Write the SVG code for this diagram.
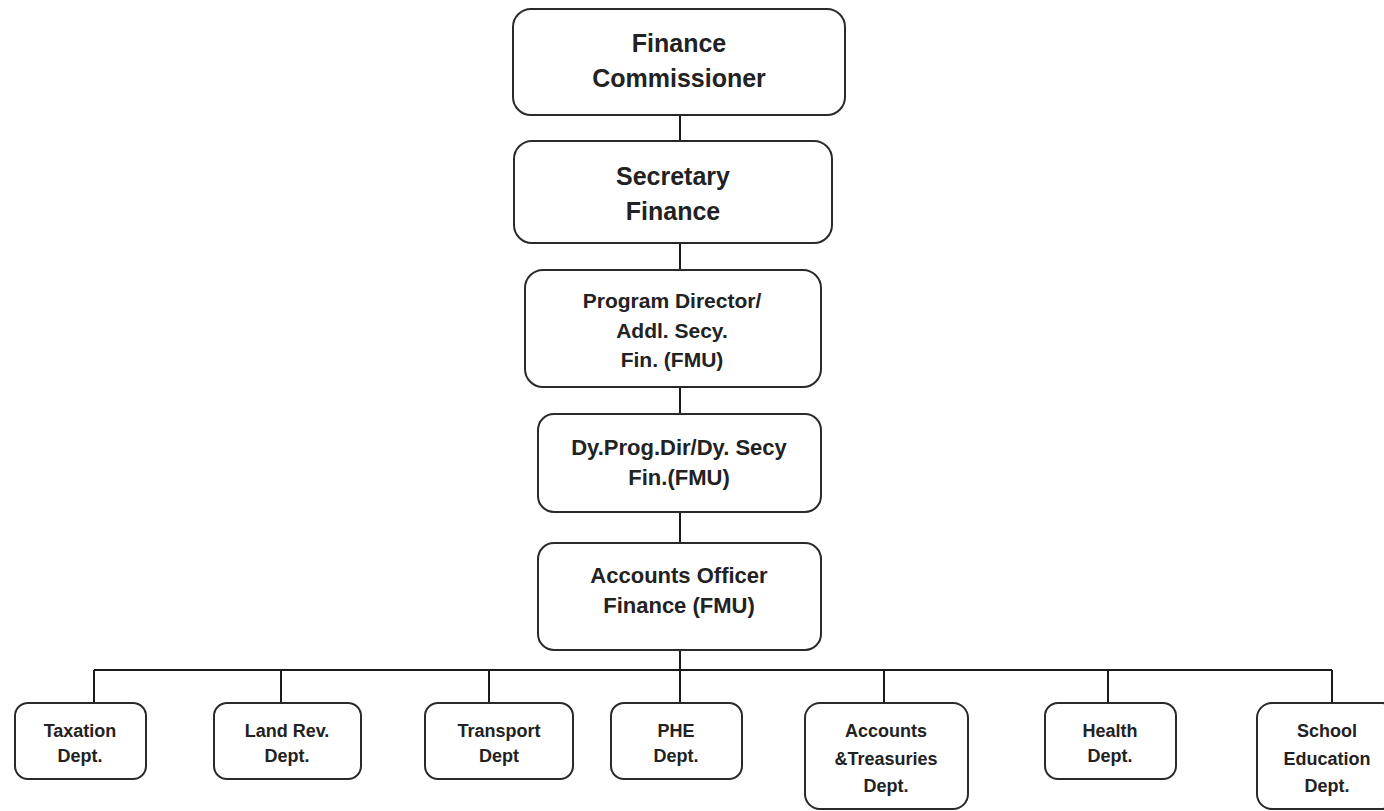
<svg xmlns="http://www.w3.org/2000/svg" width="1384" height="811" viewBox="0 0 1384 811">
  <style>
    .box { fill: #ffffff; stroke: #2a2a2a; stroke-width: 2; }
    .link { fill: none; stroke: #1a1a1a; stroke-width: 2; }
    text { font-family: "Liberation Sans", Arial, sans-serif; font-weight: bold; fill: #222222; text-anchor: middle; }
    .t1 { font-size: 25px; }
    .t2 { font-size: 21px; }
    .t3 { font-size: 22px; }
    .t4 { font-size: 18px; }
  </style>
  <rect width="1384" height="811" fill="#ffffff"/>

  <g id="connectors">
    <path class="link" d="M680 115 V141"/>
    <path class="link" d="M680 243 V270"/>
    <path class="link" d="M680 387 V414"/>
    <path class="link" d="M680 512 V543"/>
    <path class="link" d="M680 650 V703"/>
    <path class="link" d="M94 670 H1332"/>
    <path class="link" d="M94 670 V703"/>
    <path class="link" d="M281 670 V703"/>
    <path class="link" d="M489 670 V703"/>
    <path class="link" d="M884 670 V703"/>
    <path class="link" d="M1108 670 V703"/>
    <path class="link" d="M1332 670 V703"/>
  </g>

  <g id="finance-commissioner">
    <rect class="box" x="513" y="9" width="332" height="106" rx="18"/>
    <text class="t1" x="679" y="52">Finance</text>
    <text class="t1" x="679" y="87">Commissioner</text>
  </g>

  <g id="secretary-finance">
    <rect class="box" x="514" y="141" width="318" height="102" rx="18"/>
    <text class="t1" x="673" y="185">Secretary</text>
    <text class="t1" x="673" y="220">Finance</text>
  </g>

  <g id="program-director">
    <rect class="box" x="525" y="270" width="296" height="117" rx="18"/>
    <text class="t2" x="672" y="308">Program Director/</text>
    <text class="t2" x="672" y="338">Addl. Secy.</text>
    <text class="t2" x="672" y="367">Fin. (FMU)</text>
  </g>

  <g id="deputy-program-director">
    <rect class="box" x="538" y="414" width="283" height="98" rx="16"/>
    <text class="t3" x="679" y="455">Dy.Prog.Dir/Dy. Secy</text>
    <text class="t3" x="679" y="485">Fin.(FMU)</text>
  </g>

  <g id="accounts-officer">
    <rect class="box" x="538" y="543" width="283" height="107" rx="16"/>
    <text class="t3" x="679" y="583">Accounts Officer</text>
    <text class="t3" x="679" y="613">Finance (FMU)</text>
  </g>

  <g id="taxation-dept">
    <rect class="box" x="15" y="703" width="131" height="76" rx="13"/>
    <text class="t4" x="80" y="737">Taxation</text>
    <text class="t4" x="80" y="762">Dept.</text>
  </g>

  <g id="land-revenue-dept">
    <rect class="box" x="214" y="703" width="147" height="76" rx="13"/>
    <text class="t4" x="287" y="737">Land Rev.</text>
    <text class="t4" x="287" y="762">Dept.</text>
  </g>

  <g id="transport-dept">
    <rect class="box" x="425" y="703" width="148" height="76" rx="13"/>
    <text class="t4" x="499" y="737">Transport</text>
    <text class="t4" x="499" y="762">Dept</text>
  </g>

  <g id="phe-dept">
    <rect class="box" x="611" y="703" width="131" height="76" rx="13"/>
    <text class="t4" x="676" y="737">PHE</text>
    <text class="t4" x="676" y="762">Dept.</text>
  </g>

  <g id="accounts-treasuries-dept">
    <rect class="box" x="805" y="703" width="163" height="106" rx="15"/>
    <text class="t4" x="886" y="737">Accounts</text>
    <text class="t4" x="886" y="765">&amp;Treasuries</text>
    <text class="t4" x="886" y="792">Dept.</text>
  </g>

  <g id="health-dept">
    <rect class="box" x="1045" y="703" width="131" height="76" rx="13"/>
    <text class="t4" x="1110" y="737">Health</text>
    <text class="t4" x="1110" y="762">Dept.</text>
  </g>

  <g id="school-education-dept">
    <rect class="box" x="1257" y="703" width="140" height="106" rx="15"/>
    <text class="t4" x="1327" y="737">School</text>
    <text class="t4" x="1327" y="765">Education</text>
    <text class="t4" x="1327" y="792">Dept.</text>
  </g>
</svg>
